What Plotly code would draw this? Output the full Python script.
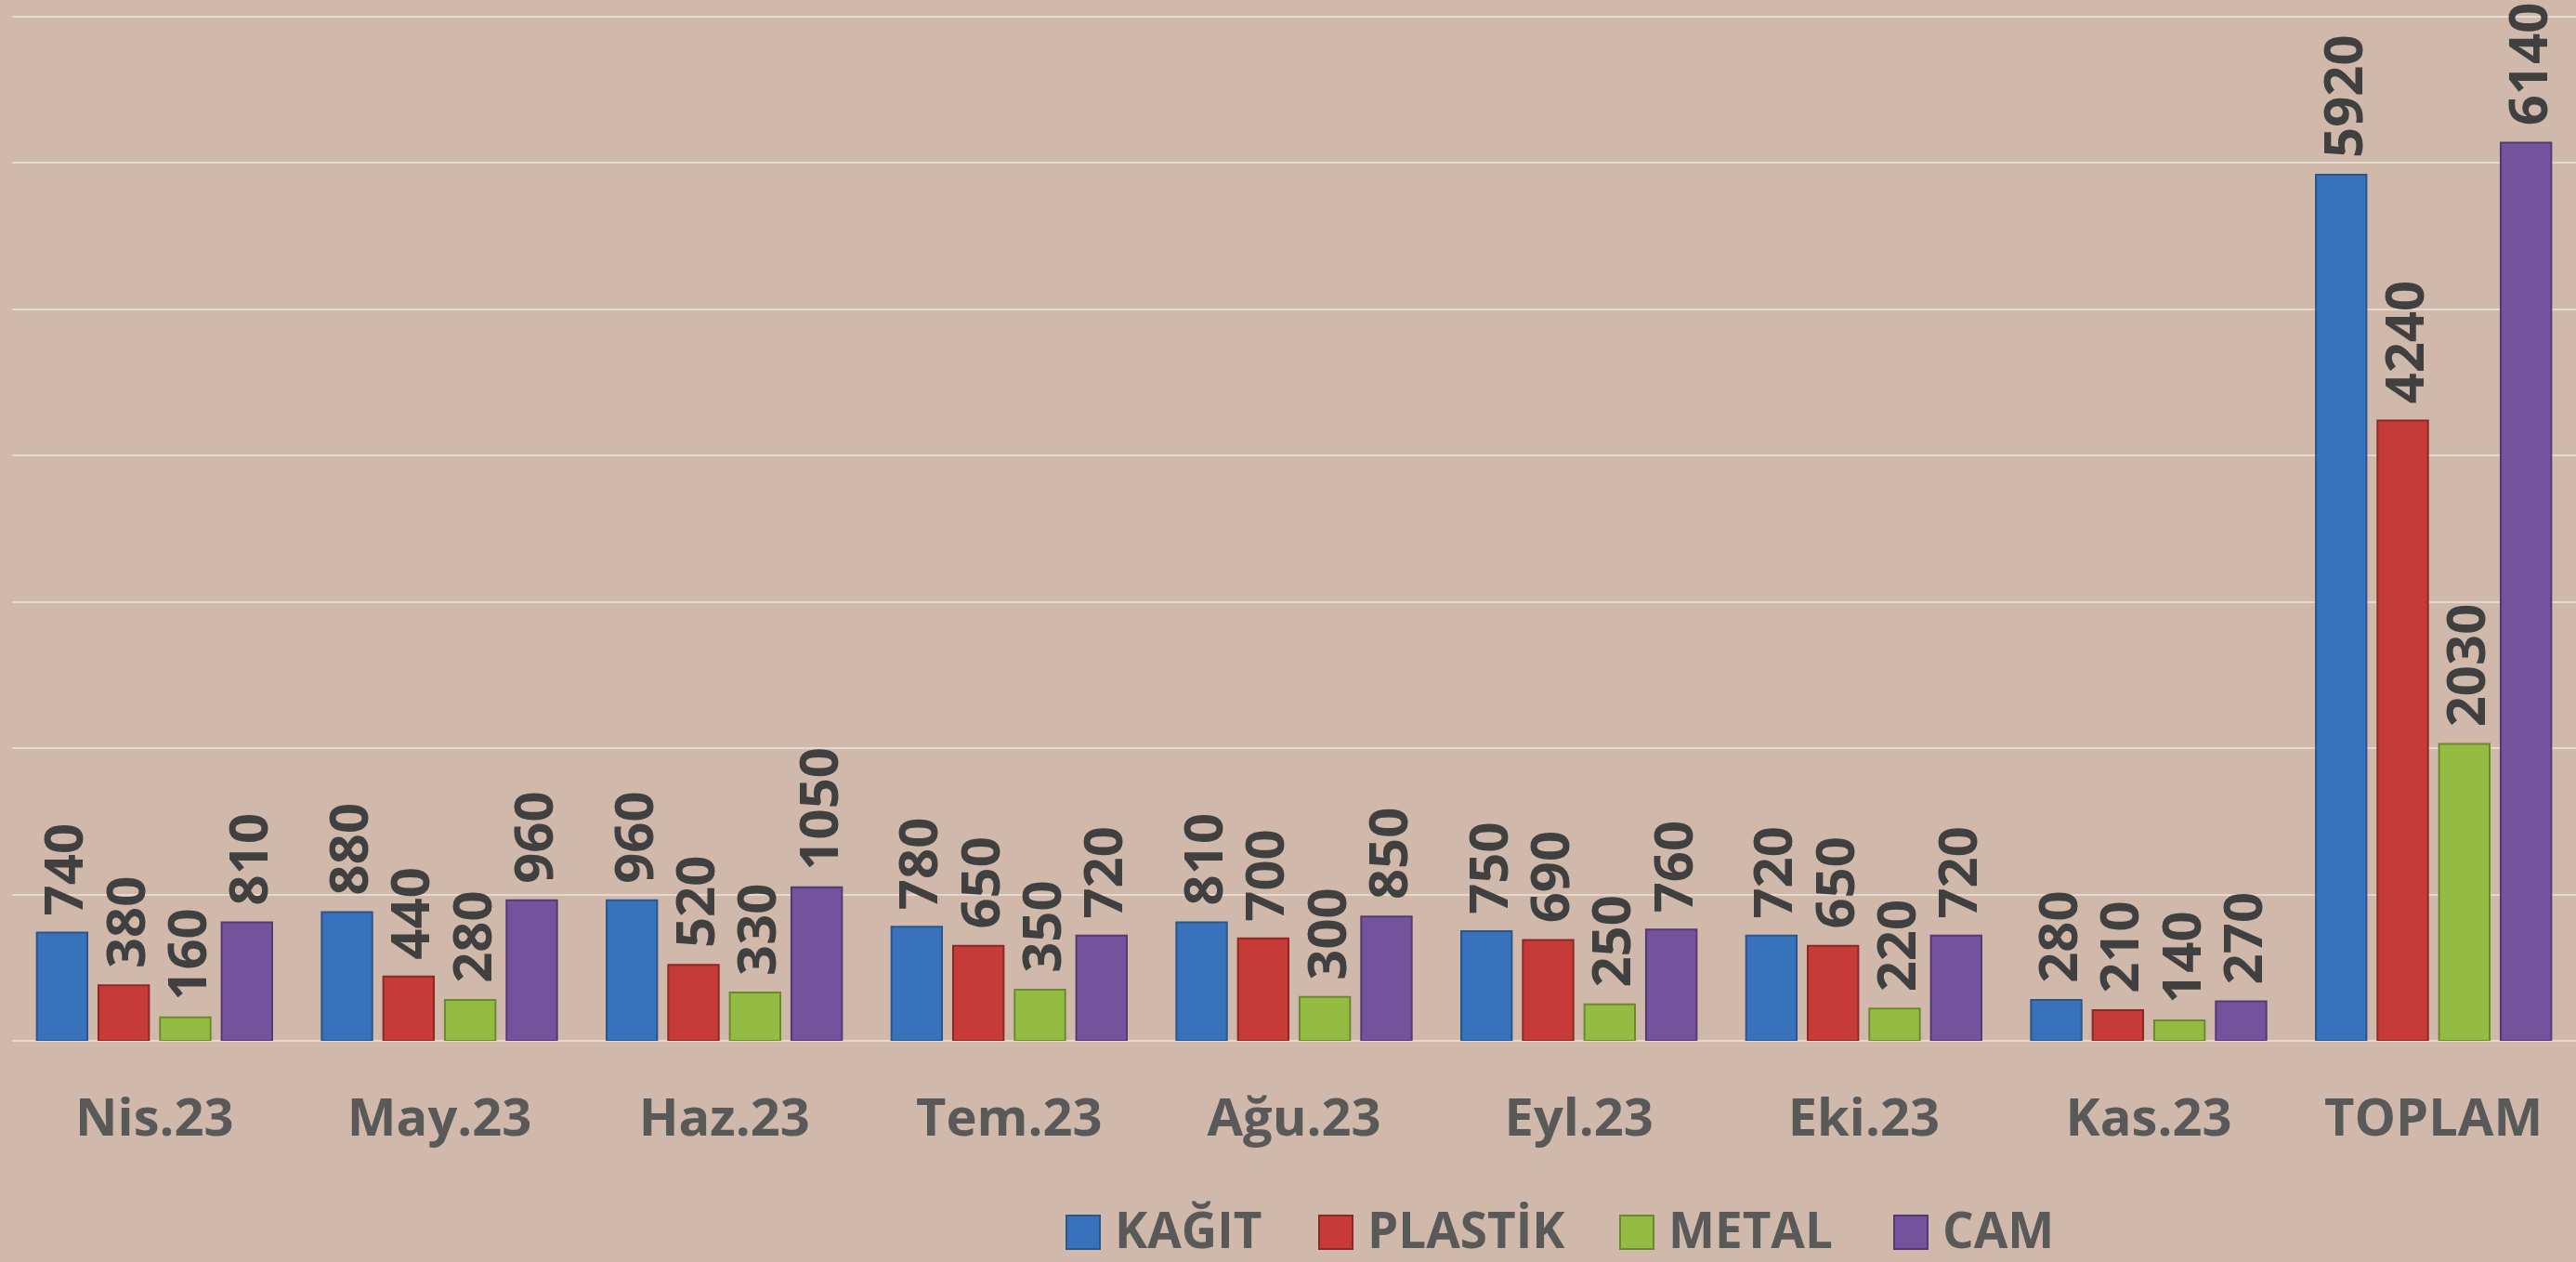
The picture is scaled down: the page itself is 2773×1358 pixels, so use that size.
import plotly.graph_objects as go

categories = ["Nis.23", "May.23", "Haz.23", "Tem.23", "Ağu.23", "Eyl.23", "Eki.23", "Kas.23", "TOPLAM"]
kagit = [740, 880, 960, 780, 810, 750, 720, 280, 5920]
plastik = [380, 440, 520, 650, 700, 690, 650, 210, 4240]
metal = [160, 280, 330, 350, 300, 250, 220, 140, 2030]
cam = [810, 960, 1050, 720, 850, 760, 720, 270, 6140]
series_names = ["KAĞIT", "PLASTİK", "METAL", "CAM"]

series_values = [kagit, plastik, metal, cam]
fills = ["#3872BC", "#C63B37", "#95BC42", "#75539C"]
edges = ["#2A568E", "#8C2926", "#6B8A2D", "#533A75"]

W, H = 2773, 1358
ML, MR, MT, MB = 13, 0, 16, 238
PW, PH = W - ML - MR, H - MT - MB
BG = "#D0B9AB"
FONT = "Open Sans"

fig = go.Figure()
for name, vals, fc, ec in zip(series_names, series_values, fills, edges):
    fig.add_trace(go.Bar(
        x=categories, y=vals, name=name,
        marker=dict(color=fc, line=dict(color=ec, width=2)),
        texttemplate="\u00a0%{y}", textposition="outside", textangle=-90,
        constraintext="none", cliponaxis=False,
        textfont=dict(family=FONT, size=58, color="#404040", weight=700),
        showlegend=False, hoverinfo="skip",
    ))

# manual legend (large markers); pixel positions in page coordinates
leg_marker_x = [1148, 1420, 1744, 2039]
leg_y = 1322
shapes = []
annotations = []


def px_x(p):
    return (p - ML) / PW


def px_y(p):
    return (MT + PH - p) / PH


for name, fc, ec, mx in zip(series_names, fills, edges, leg_marker_x):
    shapes.append(dict(
        type="rect", xref="paper", yref="paper",
        x0=px_x(mx), x1=px_x(mx + 36),
        y0=px_y(leg_y + 22), y1=px_y(leg_y - 14),
        fillcolor=fc, line=dict(color=ec, width=2),
    ))
    annotations.append(dict(
        xref="paper", yref="paper", x=px_x(mx + 50), y=px_y(leg_y),
        xanchor="left", yanchor="middle", showarrow=False, text=name,
        font=dict(family=FONT, size=53, color="#595959", weight=700),
    ))

fig.update_layout(
    width=W, height=H,
    margin=dict(l=ML, r=MR, t=MT, b=MB, pad=0),
    paper_bgcolor=BG, plot_bgcolor=BG,
    barmode="group", bargap=0.135, bargroupgap=0.18,
    showlegend=False,
    shapes=shapes, annotations=annotations,
    xaxis=dict(
        showgrid=False, zeroline=False, showline=False,
        ticks="outside", ticklen=34, tickcolor=BG,
        tickfont=dict(family=FONT, size=56, color="#595959", weight=700),
    ),
    yaxis=dict(
        range=[0, 7013], dtick=1000, showticklabels=False,
        showgrid=True, gridcolor="#E4D9D1", gridwidth=2,
        zeroline=True, zerolinecolor="#E4D9D1", zerolinewidth=2,
    ),
)

fig.write_html(
    "out.html",
    config={"displayModeBar": False},
    post_script="document.body.style.margin='0';document.body.style.padding='0';"
                "document.body.style.background='#D0B9AB';"
                "document.body.style.overflow='hidden';",
)
